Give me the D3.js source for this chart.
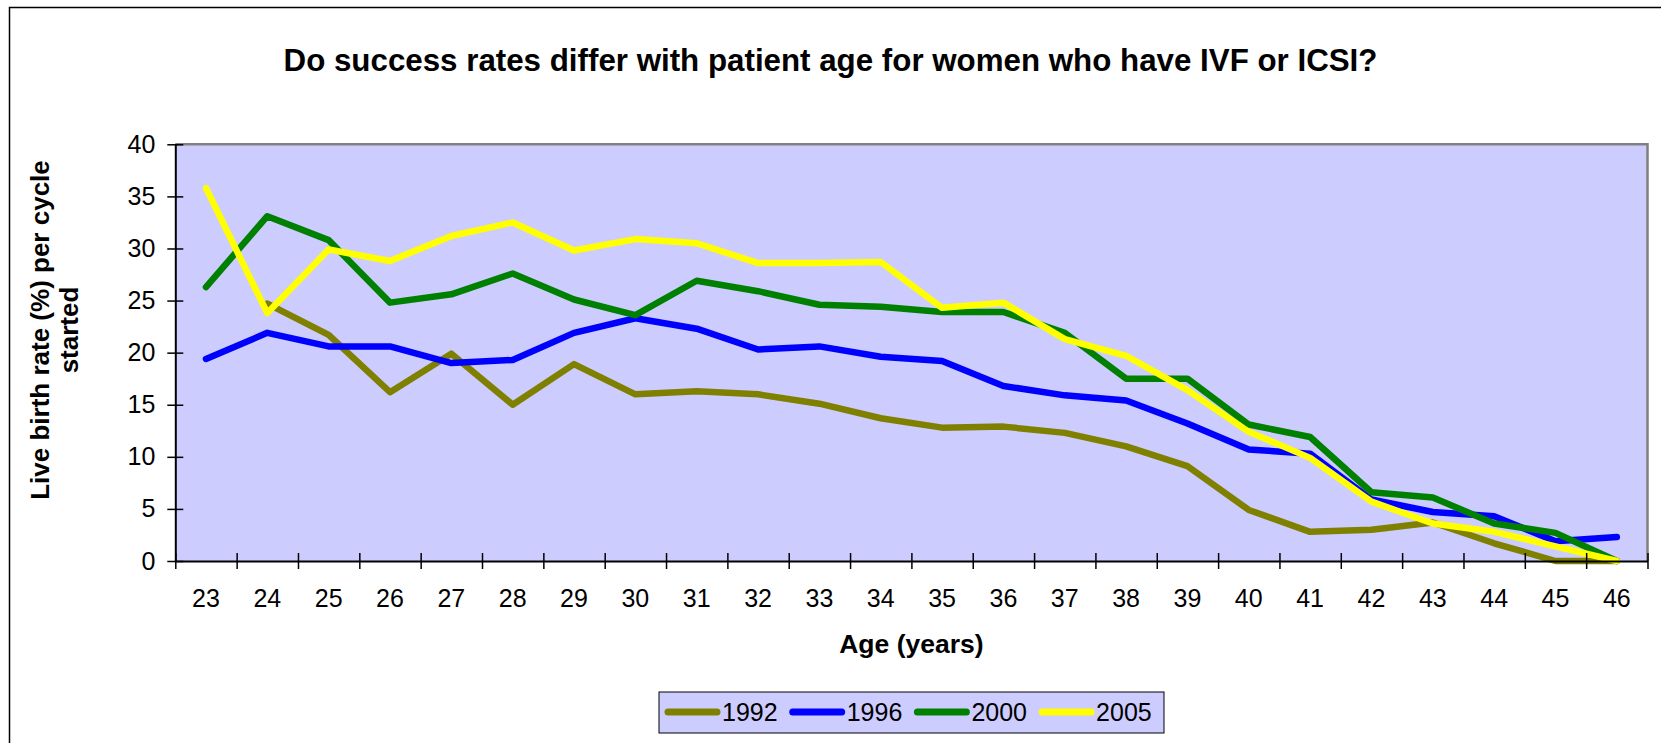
<!DOCTYPE html>
<html>
<head>
<meta charset="utf-8">
<script src="https://cdn.jsdelivr.net/npm/d3@7"></script>
<style>
  body { margin: 0; background: #fff; }
  svg { display: block; font-family: "Liberation Sans", Arial, sans-serif; }
</style>
</head>
<body>
<div id="chart"></div>
<script>
// ages on the x axis
const ages = ["23","24","25","26","27","28","29","30","31","32","33","34",
              "35","36","37","38","39","40","41","42","43","44","45","46"];
// live birth rate (%) per cycle started, one array per year
const s1992 = [null,24.7,21.7,16.2,19.9,15.0,18.9,16.0,16.3,16.0,15.1,13.7,
               12.8,12.9,12.3,11.0,9.1,4.9,2.8,3.0,3.7,1.7,0,0];
const s1996 = [19.4,21.9,20.6,20.6,19.0,19.3,21.9,23.3,22.3,20.3,20.6,19.6,
               19.2,16.8,15.9,15.4,13.2,10.7,10.3,5.9,4.7,4.3,1.9,2.3];
const s2000 = [26.3,33.1,30.8,24.8,25.6,27.6,25.1,23.6,26.9,25.9,24.6,24.4,
               23.9,23.9,21.9,17.5,17.5,13.1,11.9,6.6,6.1,3.6,2.7,0];
const s2005 = [35.8,23.8,29.9,28.8,31.2,32.5,29.8,30.9,30.5,28.6,28.6,28.7,
               24.3,24.8,21.3,19.7,16.4,12.4,9.9,5.7,3.6,2.8,1.4,0];
const seriesNames = ["1992","1996","2000","2005"];
const seriesColors = ["#808000","#0000ff","#008000","#ffff00"];
const yTicks = [0,5,10,15,20,25,30,35,40];

const series = [s1992, s1996, s2000, s2005].map((vals, i) => ({
  name: seriesNames[i], color: seriesColors[i],
  values: vals.map((v, j) => ({ age: ages[j], v: v }))
}));

const W = 1661, H = 743;
const plot = { left: 175.3, right: 1647.5, top: 144.3, bottom: 561 };

const svg = d3.select("#chart").append("svg")
    .attr("width", W).attr("height", H);

// outer chart frame (right/bottom edges fall outside the picture)
svg.append("rect")
    .attr("x", 9.5).attr("y", 7.5)
    .attr("width", 1700).attr("height", 800)
    .attr("fill", "#fff").attr("stroke", "#000").attr("stroke-width", 1.5);

svg.append("text")
    .attr("x", W / 2).attr("y", 71)
    .attr("text-anchor", "middle")
    .style("font-size", "31.3px").style("font-weight", "bold")
    .text("Do success rates differ with patient age for women who have IVF or ICSI?");

const x = d3.scaleBand().domain(ages).range([plot.left, plot.right]);
const xEdge = d3.scaleLinear().domain([0, ages.length]).range([plot.left, plot.right]);
const y = d3.scaleLinear().domain([0, 40]).range([plot.bottom, plot.top]);

// plot area
svg.append("rect")
    .attr("x", plot.left).attr("y", plot.top)
    .attr("width", plot.right - plot.left).attr("height", plot.bottom - plot.top)
    .attr("fill", "#ccccff");
svg.append("path")
    .attr("d", `M${plot.left},${plot.top}H${plot.right}V${plot.bottom}`)
    .attr("fill", "none").attr("stroke", "#808080").attr("stroke-width", 2.5);

// lines
const line = d3.line()
    .defined(d => d.v !== null)
    .x(d => x(d.age) + x.bandwidth() / 2)
    .y(d => y(d.v));

svg.append("g").selectAll("path")
    .data(series)
    .enter().append("path")
    .attr("d", d => line(d.values))
    .attr("fill", "none")
    .attr("stroke", d => d.color)
    .attr("stroke-width", 6.5)
    .attr("stroke-linejoin", "round")
    .attr("stroke-linecap", "round");

// y axis
const yAxis = svg.append("g")
    .attr("transform", `translate(${plot.left},0)`)
    .call(d3.axisLeft(y).tickValues(yTicks).tickSize(8).tickPadding(12).tickSizeOuter(0));
yAxis.select(".domain").attr("stroke", "#000").attr("stroke-width", 2);
yAxis.selectAll(".tick line").attr("x1", 8).attr("stroke-width", 1.5);
yAxis.selectAll("text").style("font-size", "25px").attr("fill", "#000");

// x axis: ticks on the category edges, labels centred in the bands
const xTicks = svg.append("g")
    .attr("transform", `translate(0,${plot.bottom})`)
    .call(d3.axisBottom(xEdge).tickValues(d3.range(ages.length + 1)).tickSize(8).tickFormat("").tickSizeOuter(0));
xTicks.select(".domain").attr("stroke", "#000").attr("stroke-width", 2);
xTicks.selectAll(".tick line").attr("y1", -8).attr("stroke-width", 1.5);

const xLabels = svg.append("g")
    .attr("transform", `translate(0,${plot.bottom})`)
    .call(d3.axisBottom(x).tickSize(0).tickPadding(28));
xLabels.select(".domain").remove();
xLabels.selectAll("text").style("font-size", "25px").attr("fill", "#000");

// axis titles
svg.append("text")
    .attr("x", (plot.left + plot.right) / 2).attr("y", 653)
    .attr("text-anchor", "middle")
    .style("font-size", "26.5px").style("font-weight", "bold")
    .text("Age (years)");

const yTitle = svg.append("text")
    .attr("transform", "translate(48.5,330) rotate(-90)")
    .attr("text-anchor", "middle")
    .style("font-size", "26px").style("font-weight", "bold");
yTitle.append("tspan").attr("x", 0).attr("dy", 0).text("Live birth rate (%) per cycle");
yTitle.append("tspan").attr("x", 0).attr("dy", 29).text("started");

// legend
const legend = svg.append("g").attr("transform", "translate(659,692)");
legend.append("rect")
    .attr("width", 505).attr("height", 41)
    .attr("fill", "#ccccff").attr("stroke", "#000").attr("stroke-width", 1);
const item = legend.selectAll(".item")
    .data(series)
    .enter().append("g")
    .attr("class", "item")
    .attr("transform", (d, i) => `translate(${9 + i * 124.7},20)`);
item.append("line")
    .attr("x1", 0).attr("x2", 49)
    .attr("stroke", d => d.color).attr("stroke-width", 7)
    .attr("stroke-linecap", "round");
item.append("text")
    .attr("x", 54).attr("y", 9)
    .style("font-size", "25px")
    .text(d => d.name);
</script>
</body>
</html>
